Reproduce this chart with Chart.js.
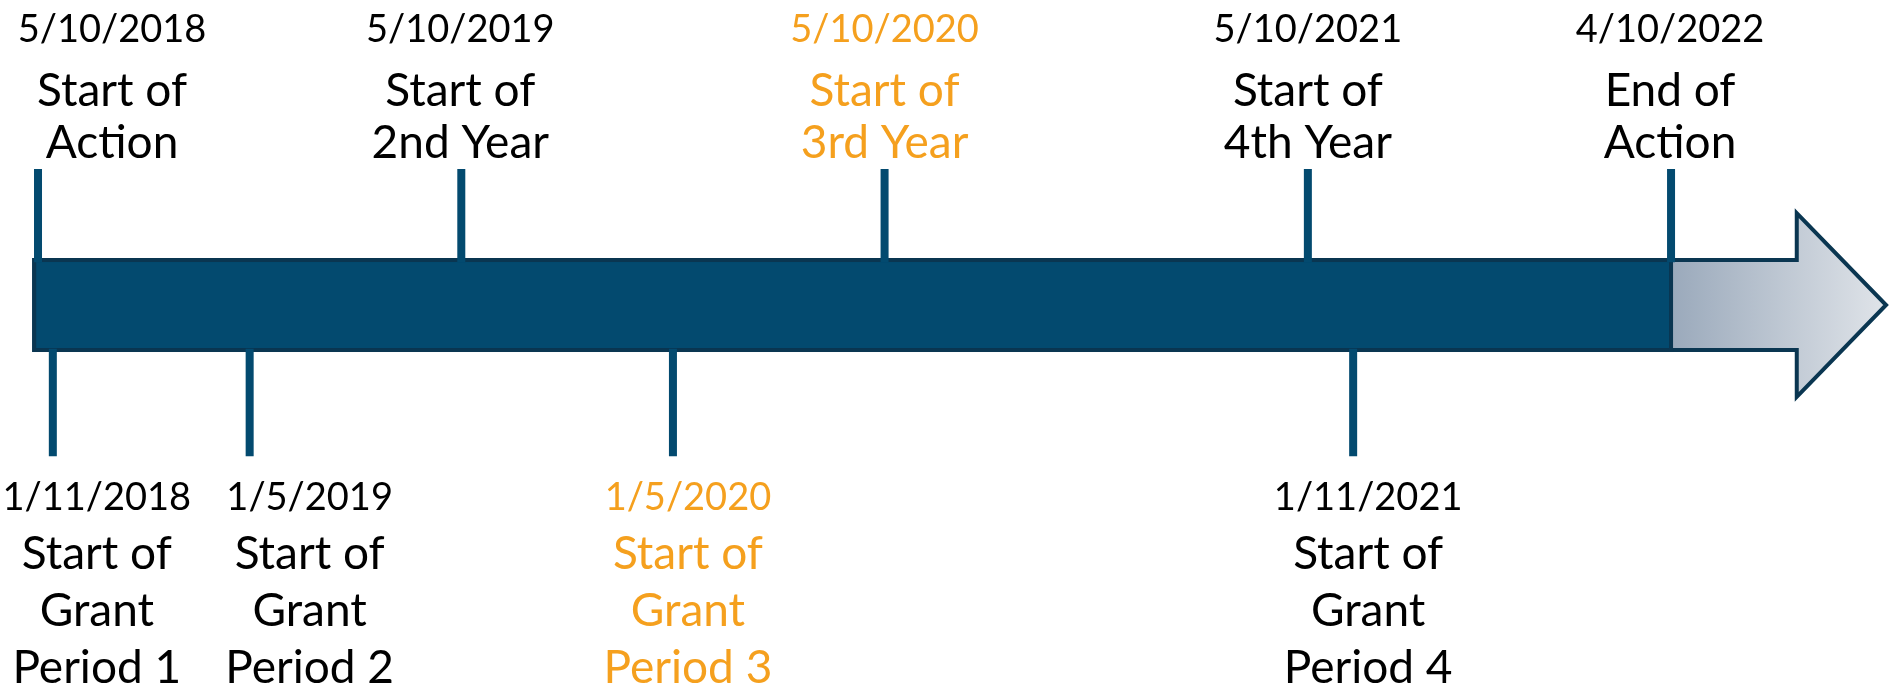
<!DOCTYPE html>
<html>
<head>
<meta charset="utf-8">
<script src="https://cdn.jsdelivr.net/npm/chart.js@4.4.0/dist/chart.umd.min.js"></script>
<style>
  html, body { margin: 0; padding: 0; background: #ffffff; }
  canvas { display: block; }
</style>
</head>
<body>
<canvas id="timeline" width="1892" height="693"></canvas>
<script>

// milestones above the bar (x = years from start of action, schematic)
var topDates = ["5/10/2018", "5/10/2019", "5/10/2020", "5/10/2021", "4/10/2022"];
var topTitles = [["Start of", "Action"], ["Start of", "2nd Year"], ["Start of", "3rd Year"], ["Start of", "4th Year"], ["End of", "Action"]];
var topValues = [0, 1, 2, 3, 3.858];
var topHighlight = [false, false, true, false, false];

// grant periods below the bar
var bottomDates = ["1/11/2018", "1/5/2019", "1/5/2020", "1/11/2021"];
var bottomTitles = [["Start of", "Grant", "Period 1"], ["Start of", "Grant", "Period 2"], ["Start of", "Grant", "Period 3"], ["Start of", "Grant", "Period 4"]];
var bottomValues = [0.035, 0.5, 1.5, 3.107];
var bottomHighlight = [false, false, true, false];

// arrow: start, end of the action part, end of shaft, tip
var arrowValues = [-0.009, 3.858, 4.155, 4.366];

// layout (pixels / axis units)
var X_MIN = -0.0898, X_MAX = 4.380;
var Y_MIN = -8.622, Y_MAX = 6.778;
var TICK_TOP = 3.02, TICK_BOTTOM = -3.36;
var BAR_HALF = 1, HEAD_HALF = 2.04;
var topShift = [74, -1, 0, 0, -1];
var bottomShift = [44, 60, 15, 15];
var topBaselines = [-127, -63, -11];
var bottomBaselines = [54, 113, 170, 227];

var BLUE = "#034a6f";
var OUTLINE = "#0a3651";
var ORANGE = "#f5a01e";
var DATE_FONT = "38px Lato";
var TITLE_FONT = "46px Lato";

var tickSets = [];
topValues.forEach(function(v){
  tickSets.push({ data: [{x: v, y: 0.95}, {x: v, y: TICK_TOP}] });
});
bottomValues.forEach(function(v){
  tickSets.push({ data: [{x: v, y: -0.97}, {x: v, y: TICK_BOTTOM}] });
});
tickSets.forEach(function(d){
  d.showLine = true;
  d.borderColor = BLUE;
  d.borderWidth = 8;
  d.borderCapStyle = "butt";
  d.pointRadius = 0;
  d.clip = false;
});

var arrowPlugin = {
  id: "arrow",
  beforeDatasetsDraw: function(chart){
    var ctx = chart.ctx;
    var xs = chart.scales.x, ys = chart.scales.y;
    var x0 = xs.getPixelForValue(arrowValues[0]);
    var x1 = xs.getPixelForValue(arrowValues[1]);
    var x2 = xs.getPixelForValue(arrowValues[2]);
    var x3 = xs.getPixelForValue(arrowValues[3]);
    var yt = ys.getPixelForValue(BAR_HALF), yb = ys.getPixelForValue(-BAR_HALF);
    var ym = ys.getPixelForValue(0);
    var ht = ys.getPixelForValue(HEAD_HALF), hb = ys.getPixelForValue(-HEAD_HALF);

    ctx.save();
    // whole arrow with light gradient
    var grad = ctx.createLinearGradient(x1, 0, x3, 0);
    grad.addColorStop(0, "#9aa9bb");
    grad.addColorStop(1, "#e0e4e9");
    ctx.beginPath();
    ctx.moveTo(x0, yt);
    ctx.lineTo(x2, yt);
    ctx.lineTo(x2, ht);
    ctx.lineTo(x3, ym);
    ctx.lineTo(x2, hb);
    ctx.lineTo(x2, yb);
    ctx.lineTo(x0, yb);
    ctx.closePath();
    ctx.fillStyle = grad;
    ctx.fill();
    ctx.lineWidth = 4;
    ctx.lineJoin = "miter";
    ctx.strokeStyle = OUTLINE;
    ctx.stroke();

    // dark part of the bar (duration of the action)
    ctx.fillStyle = BLUE;
    ctx.fillRect(x0, yt, x1 - x0, yb - yt);
    ctx.strokeRect(x0, yt, x1 - x0, yb - yt);
    ctx.restore();
  }
};

function drawBlock(ctx, x, y0, offsets, lines, color){
  ctx.fillStyle = color;
  lines.forEach(function(t, j){
    ctx.font = j === 0 ? DATE_FONT : TITLE_FONT;
    ctx.fillText(t, x, y0 + offsets[j]);
  });
}

var labelPlugin = {
  id: "labels",
  afterDatasetsDraw: function(chart){
    var ctx = chart.ctx;
    var xs = chart.scales.x, ys = chart.scales.y;
    ctx.save();
    ctx.textAlign = "center";
    ctx.textBaseline = "alphabetic";

    var yTop = ys.getPixelForValue(TICK_TOP);
    topValues.forEach(function(v, i){
      var x = xs.getPixelForValue(v) + topShift[i];
      drawBlock(ctx, x, yTop, topBaselines, [topDates[i]].concat(topTitles[i]),
        topHighlight[i] ? ORANGE : "#000000");
    });

    var yBot = ys.getPixelForValue(TICK_BOTTOM);
    bottomValues.forEach(function(v, i){
      var x = xs.getPixelForValue(v) + bottomShift[i];
      drawBlock(ctx, x, yBot, bottomBaselines, [bottomDates[i]].concat(bottomTitles[i]),
        bottomHighlight[i] ? ORANGE : "#000000");
    });
    ctx.restore();
  }
};

function init(){
  var ctx = document.getElementById("timeline").getContext("2d");
  var chart = new Chart(ctx, {
    type: "scatter",
    data: { datasets: tickSets },
    options: {
      responsive: false,
      animation: false,
      devicePixelRatio: 1,
      layout: { padding: 0 },
      plugins: {
        legend: { display: false },
        tooltip: { enabled: false }
      },
      scales: {
        x: { type: "linear", display: false, min: X_MIN, max: X_MAX },
        y: { type: "linear", display: false, min: Y_MIN, max: Y_MAX }
      }
    },
    plugins: [arrowPlugin, labelPlugin]
  });
}

init();
</script>
</body>
</html>
